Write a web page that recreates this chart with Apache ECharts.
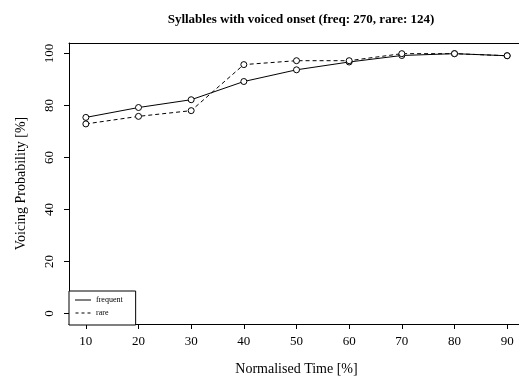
<!DOCTYPE html>
<html><head><meta charset="utf-8">
<script src="https://cdn.jsdelivr.net/npm/echarts@6/dist/echarts.min.js"></script>
<style>html,body{margin:0;padding:0;background:#fff}#c{width:519px;height:377px}</style>
</head><body><div id="c"></div>
<script>
const times = [10, 20, 30, 40, 50, 60, 70, 80, 90];
const frequent = [75.4, 79.2, 82.2, 89.2, 93.7, 96.7, 99.2, 99.9, 99.1];
const rare = [72.9, 75.8, 78.0, 95.7, 97.2, 97.2, 99.9, 99.9, 99.1];
const yTicks = [0, 20, 40, 60, 80, 100];
const xTicks = [10, 20, 30, 40, 50, 60, 70, 80, 90];
const title = 'Syllables with voiced onset (freq: 270, rare: 124)';

const serif = '"Liberation Serif", "DejaVu Serif", serif';
const chart = echarts.init(document.getElementById('c'));
const pair = (xs, ys) => xs.map((x, i) => [x, ys[i]]);
const axisText = { fontFamily: serif, fontSize: 13, color: '#000' };
chart.setOption({
  animation: false,
  backgroundColor: '#fff',
  title: {
    text: title, left: 296, top: 8, textAlign: 'center',
    textStyle: { fontFamily: serif, fontSize: 13, fontWeight: 'bold', color: '#000' }
  },
  grid: { left: 69, top: 43, width: 455, height: 281, show: false, containLabel: false, outerBoundsMode: 'none' },
  legend: {
    orient: 'vertical', left: 69, top: 291,
    backgroundColor: '#fff', borderColor: '#000', borderWidth: 1,
    padding: [5, 13, 8, 6], itemGap: 5, itemWidth: 16, itemHeight: 1,
    textStyle: { fontFamily: serif, fontSize: 8, color: '#000' },
    data: [
      { name: 'frequent', icon: 'path://M0,0H16V1H0Z' },
      { name: 'rare', icon: 'path://M0,0H3V1H0Z M6,0H9V1H6Z M12,0H15V1H12Z' }
    ],
    itemStyle: { color: '#000', borderWidth: 0, borderColor: 'transparent' },
    lineStyle: { width: 0 }
  },
  xAxis: [{
    type: 'value', min: 6.8, max: 93.2, position: 'bottom',
    name: 'Normalised Time [%]', nameLocation: 'middle', nameGap: 38,
    nameTextStyle: { fontFamily: serif, fontSize: 14, color: '#000' },
    axisLine: { show: true, onZero: false, lineStyle: { color: '#000', width: 1 } },
    axisTick: { show: true, length: 5, customValues: xTicks, lineStyle: { color: '#000' } },
    axisLabel: Object.assign({ customValues: xTicks, margin: 11 }, axisText),
    splitLine: { show: false }
  }, {
    type: 'value', min: 6.8, max: 93.2, position: 'top',
    axisLine: { show: true, onZero: false, lineStyle: { color: '#000', width: 1 } },
    axisTick: { show: false }, axisLabel: { show: false }, splitLine: { show: false }
  }],
  yAxis: {
    type: 'value', min: -4, max: 104,
    name: 'Voicing Probability [%]', nameLocation: 'middle', nameGap: 41, nameRotate: 90,
    nameTextStyle: { fontFamily: serif, fontSize: 14, color: '#000' },
    axisLine: { show: true, onZero: false, lineStyle: { color: '#000', width: 1 } },
    axisTick: { show: true, length: 5, customValues: yTicks, lineStyle: { color: '#000' } },
    axisLabel: Object.assign({ customValues: yTicks, rotate: 90, margin: 13 }, axisText),
    splitLine: { show: false }
  },
  series: [
    { name: 'frequent', type: 'line', data: pair(times, frequent), symbol: 'circle', symbolSize: 6,
      itemStyle: { color: '#fff', borderColor: '#000', borderWidth: 1 },
      lineStyle: { color: '#000', width: 1, type: 'solid' } },
    { name: 'rare', type: 'line', data: pair(times, rare), symbol: 'circle', symbolSize: 6,
      itemStyle: { color: '#fff', borderColor: '#000', borderWidth: 1 },
      lineStyle: { color: '#000', width: 1, type: [4, 3] } }
  ]
});
</script></body></html>
